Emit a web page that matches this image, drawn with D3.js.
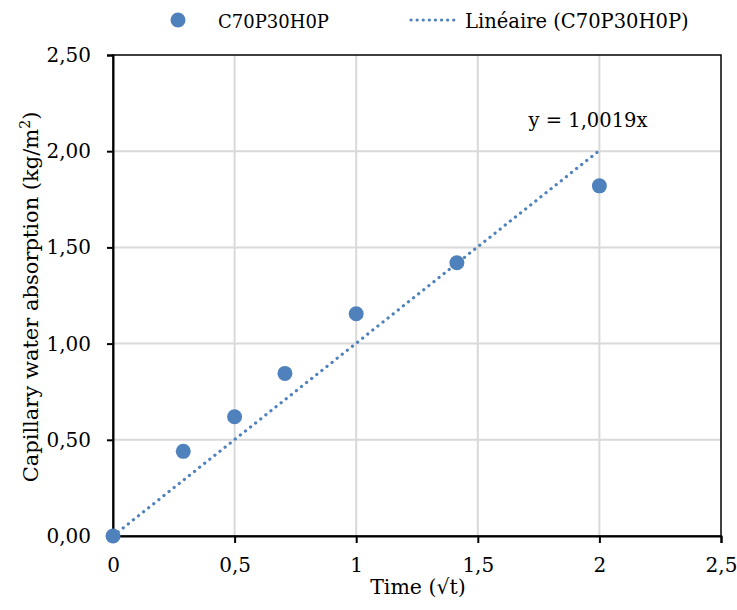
<!DOCTYPE html>
<html><head><meta charset="utf-8">
<script src="https://cdn.jsdelivr.net/npm/d3@7"></script>
<style>body{margin:0;background:#fff}svg text{font-family:"DejaVu Serif",serif;fill:#000}</style>
</head><body><svg id="c" width="737" height="610"></svg>
<script>
const xValues = [0, 0.289, 0.5, 0.707, 1, 1.414, 2];
const yValues = [0, 0.44, 0.62, 0.845, 1.155, 1.42, 1.82];
const slope = 1.0019;
const trendX = [0, 2];
const xTicks = [0, 0.5, 1, 1.5, 2, 2.5];
const yTicks = [0, 0.5, 1, 1.5, 2, 2.5];
const seriesName = "C70P30H0P";
const trendName = "Linéaire (C70P30H0P)";
const equation = "y = 1,0019x";
const color = "#4f81bd";

const svg = d3.select("#c");
const L = 113, R = 721, T = 55, B = 536;
const x = d3.scaleLinear().domain([0, 2.5]).range([L, R]);
const y = d3.scaleLinear().domain([0, 2.5]).range([B, T]);
const fmtX = d => d3.format(".1~f")(d).replace(".", ",");
const fmtY = d => d3.format(".2f")(d).replace(".", ",");

// gridlines
svg.append("g").selectAll("line").data(xTicks.filter(d => d > 0 && d < 2.5)).join("line")
  .attr("x1", d => x(d)).attr("x2", d => x(d)).attr("y1", T).attr("y2", B)
  .attr("stroke", "#d9d9d9").attr("stroke-width", 2);
svg.append("g").selectAll("line").data(yTicks.filter(d => d > 0 && d < 2.5)).join("line")
  .attr("x1", L).attr("x2", R).attr("y1", d => y(d)).attr("y2", d => y(d))
  .attr("stroke", "#d9d9d9").attr("stroke-width", 2);

// border
svg.append("rect").attr("x", L).attr("y", T).attr("width", R - L).attr("height", B - T)
  .attr("fill", "none").attr("stroke", "#000").attr("stroke-width", 1.5);

// axes
const xAxis = svg.append("g").attr("transform", `translate(0,${B})`)
  .call(d3.axisBottom(x).tickValues(xTicks).tickFormat(fmtX).tickSize(7).tickPadding(15));
const yAxis = svg.append("g").attr("transform", `translate(${L},0)`)
  .call(d3.axisLeft(y).tickValues(yTicks).tickFormat(fmtY).tickSize(6).tickPadding(16));
[xAxis, yAxis].forEach(a => {
  a.select(".domain").attr("stroke", "#000").attr("stroke-width", 2);
  a.selectAll(".tick line").attr("stroke", "#000").attr("stroke-width", 2);
  a.selectAll("text").style("font-size", "20px").style("font-family", '"DejaVu Serif",serif');
});

// trendline
svg.append("line")
  .attr("x1", x(trendX[0])).attr("y1", y(slope * trendX[0]))
  .attr("x2", x(trendX[1])).attr("y2", y(slope * trendX[1]))
  .attr("stroke", color).attr("stroke-width", 3.2).attr("stroke-linecap", "round")
  .attr("stroke-dasharray", "0.1 6.4");

// points
svg.append("g").selectAll("circle").data(xValues.map((v, i) => [v, yValues[i]])).join("circle")
  .attr("cx", d => x(d[0])).attr("cy", d => y(d[1])).attr("r", 7.5).attr("fill", color);

// equation
svg.append("text").attr("x", 588).attr("y", 127).attr("text-anchor", "middle")
  .style("font-size", "19.5px").text(equation);

// axis titles
svg.append("text").attr("x", 418).attr("y", 594).attr("text-anchor", "middle")
  .style("font-size", "20.5px").text("Time (√t)");
const yt = svg.append("text").attr("transform", "translate(38,297) rotate(-90)")
  .attr("text-anchor", "middle").style("font-size", "21px");
yt.append("tspan").text("Capillary water absorption (kg/m");
yt.append("tspan").attr("dy", -8).style("font-size", "14px").text("2");
yt.append("tspan").attr("dy", 8).text(")");

// legend
svg.append("circle").attr("cx", 178).attr("cy", 20).attr("r", 7.5).attr("fill", color);
svg.append("text").attr("x", 218).attr("y", 28).style("font-size", "18px").text(seriesName);
svg.append("line").attr("x1", 411).attr("x2", 459).attr("y1", 20).attr("y2", 20)
  .attr("stroke", color).attr("stroke-width", 3.2).attr("stroke-linecap", "round")
  .attr("stroke-dasharray", "0.1 6");
svg.append("text").attr("x", 465).attr("y", 28).style("font-size", "19.5px").text(trendName);
</script></body></html>
